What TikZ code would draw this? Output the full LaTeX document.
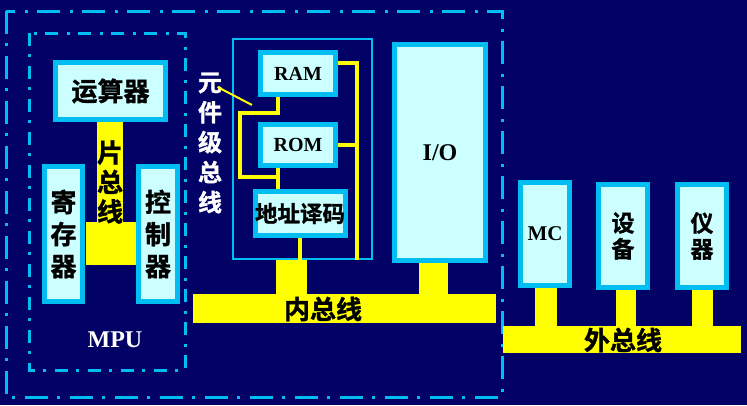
\documentclass[tikz,border=0pt]{standalone}
\usepackage{fontspec}
\setmainfont{Liberation Serif}
\newfontfamily\cjk{Noto Sans CJK SC}[BoldFont={Noto Sans CJK SC Bold}, BoldFeatures={FakeBold=1.2}]
\definecolor{bgc}{HTML}{010166}
\definecolor{cyb}{HTML}{00BEF2}
\definecolor{lcy}{HTML}{CCFFFF}
\definecolor{ylw}{HTML}{FFFF00}
\tikzset{
  blk/.style={draw=cyb, line width=5pt, fill=lcy, inner sep=0pt, text=black},
  ddoto/.style={draw=cyb, line width=3pt, dash pattern=on 23pt off 9pt on 3pt off 10pt},
  ddoti/.style={draw=cyb, line width=3pt, dash pattern=on 13pt off 8pt on 3pt off 9pt},
  busbar/.style={fill=ylw, inner sep=0pt, text=black},
  stem/.style={draw=ylw},
  wire/.style={draw=ylw, line width=4pt},
  zh/.style={font=\cjk\bfseries\fontsize{26}{32}\selectfont, align=center},
  lat/.style={font=\bfseries\fontsize{20}{24}\selectfont},
}
\begin{document}
\begin{tikzpicture}[x=1pt,y=-1pt]
\useasboundingbox (0,0) rectangle (747,405);
\fill[bgc] (0,0) rectangle (747,405);

% dash-dot frames
\draw[ddoto] (6,11) rectangle (502,397);
\draw[ddoti] (29,33) rectangle (185,370);

% buses
\node[busbar, minimum width=303pt, minimum height=29pt] (nbus) at (344.5,308.5) {};
\node[busbar, minimum width=238pt, minimum height=27pt] (wbus) at (622,339.5) {};
\node[busbar, minimum width=26pt, minimum height=100pt] (cbus) at (110,172) {};
\node[busbar, minimum width=51pt, minimum height=43pt] (cblk) at (111,243.5) {};

% memory container
\node[draw=cyb, line width=2pt, minimum width=139pt, minimum height=220pt, inner sep=0pt] (mem) at (302.5,149) {};

% boxes
\node[blk, minimum width=110pt, minimum height=57pt, zh] (alu) at (110.5,91) {运算器};
\node[blk, minimum width=38pt, minimum height=135pt, zh] (reg) at (63.5,234) {寄\\存\\器};
\node[blk, minimum width=39pt, minimum height=135pt, zh] (ctl) at (158,234) {控\\制\\器};
\node[blk, minimum width=75pt, minimum height=42pt, lat] (ram) at (298,73.5) {RAM};
\node[blk, minimum width=75pt, minimum height=41pt, lat] (rom) at (298,145) {ROM};
\node[blk, minimum width=89pt, minimum height=44pt, zh, font=\cjk\bfseries\fontsize{22.5}{26}\selectfont] (dec) at (300,213.5) {地址译码};
\node[blk, minimum width=91pt, minimum height=216pt, lat, font=\bfseries\fontsize{24}{28}\selectfont] (io) at (440,152.5) {I/O};
\node[blk, minimum width=49pt, minimum height=103pt, lat, font=\bfseries\fontsize{21}{24}\selectfont] (mc) at (545,234) {MC};
\node[blk, minimum width=49pt, minimum height=103pt, zh, font=\cjk\bfseries\fontsize{23}{26}\selectfont] (dev) at (623,236) {设\\备};
\node[blk, minimum width=49pt, minimum height=103pt, zh, font=\cjk\bfseries\fontsize{23}{26}\selectfont] (ins) at (702,236) {仪\\器};

% stems
\coordinate (sx1) at (291.5,0);
\coordinate (sx2) at (433.5,0);
\coordinate (sx3) at (546,0);
\coordinate (sx4) at (625.5,0);
\coordinate (sx5) at (702.5,0);
\draw[stem, line width=31pt] (mem.south -| sx1) -- (nbus.north -| sx1);
\draw[stem, line width=29pt] (io.south -| sx2) -- (nbus.north -| sx2);
\draw[stem, line width=22pt] (mc.south -| sx3) -- (wbus.north -| sx3);
\draw[stem, line width=20pt] (dev.south -| sx4) -- (wbus.north -| sx4);
\draw[stem, line width=21pt] (ins.south -| sx5) -- (wbus.north -| sx5);
\draw[stem, line width=26pt] (alu.south -| cbus) -- (cbus.north);

% component-level bus wires
\coordinate (wl) at (278,0);
\coordinate (wr) at (357,0);
\coordinate (wd) at (300,0);
\coordinate (bend) at (240,113);
\coordinate (bend2) at (240,177);
\draw[wire] (ram.south -| wl) -- (wl |- bend) -- (bend) -- (bend2) -- (bend2 -| wl) -- (dec.north -| wl);
\draw[wire] (rom.south -| wl) -- (bend2 -| wl);
\draw[wire] (ram.east |- 0,63) -- (wr |- 0,63) -- (mem.south -| wr);
\draw[wire] (rom.east) -- (rom.east -| wr);
\draw[wire] (dec.south -| wd) -- (mem.south -| wd);

% labels
\node[zh, text=black, font=\cjk\bfseries\fontsize{26}{29.5}\selectfont] (cbl) at (110,182) {片\\总\\线};
\node[zh, text=black, font=\cjk\bfseries\fontsize{26}{28}\selectfont] (nbl) at (323,309) {内总线};
\node[zh, text=black, font=\cjk\bfseries\fontsize{26}{28}\selectfont] (wbl) at (623,340) {外总线};
\node[zh, text=white, font=\cjk\bfseries\fontsize{24}{30}\selectfont] (elb) at (210,143) {元\\件\\级\\总\\线};
\coordinate (ptr) at (252,105);
\draw[ylw, line width=2pt] (elb.north east |- 0,87) ++(-8,0) -- (ptr);
\node[text=white, font=\bfseries\fontsize{24}{28}\selectfont] (mpu) at (115,340) {MPU};
\end{tikzpicture}
\end{document}
